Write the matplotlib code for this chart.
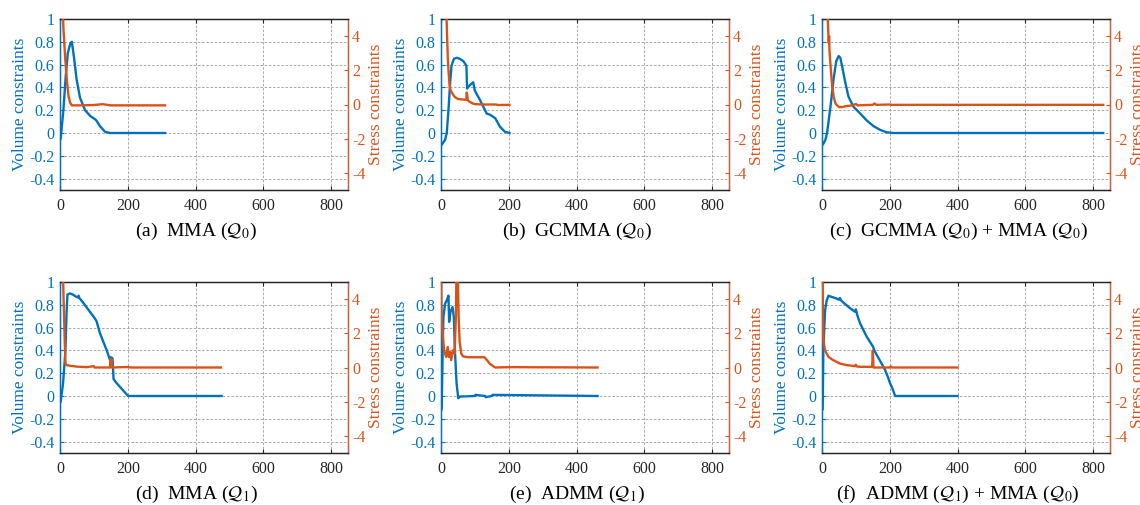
import matplotlib
matplotlib.use("Agg")
import matplotlib.pyplot as plt
from matplotlib.ticker import FuncFormatter

plt.rcParams['font.family'] = ['Liberation Serif', 'DejaVu Serif']
plt.rcParams['mathtext.fontset'] = 'stix'
plt.rcParams['axes.unicode_minus'] = False

BLUE = '#0072BD'
ORANGE = '#D95319'
DARK = '#262626'

captions = [r'(a)  MMA ($\mathcal{Q}_0$)',
            r'(b)  GCMMA ($\mathcal{Q}_0$)',
            r'(c)  GCMMA ($\mathcal{Q}_0$) + MMA ($\mathcal{Q}_0$)',
            r'(d)  MMA ($\mathcal{Q}_1$)',
            r'(e)  ADMM ($\mathcal{Q}_1$)',
            r'(f)  ADMM ($\mathcal{Q}_1$) + MMA ($\mathcal{Q}_0$)']

# (a) MMA (Q0)
a_vol_x = [0, 2, 10, 17, 23, 31, 35, 41, 49, 59, 74, 89, 106, 118, 133, 148, 310]
a_vol_y = [-0.06, -0.05, 0.2, 0.5, 0.7, 0.79, 0.8, 0.67, 0.47, 0.31, 0.2, 0.15, 0.115, 0.06, 0.01, 0.0, 0.0]
a_str_x = [7, 10, 15, 20, 25, 30, 35, 60, 100, 125, 150, 200, 310]
a_str_y = [6.5, 4.5, 2.8, 1.5, 0.5, 0.1, -0.05, -0.05, -0.03, 0.02, -0.05, -0.05, -0.05]

# (b) GCMMA (Q0)
b_vol_x = [0, 3, 12, 17, 22, 27, 31, 38, 46, 56, 66, 75, 77, 85, 95, 100, 115, 135, 145, 160, 174, 189, 202]
b_vol_y = [-0.11, -0.1, -0.06, 0.0, 0.2, 0.44, 0.59, 0.65, 0.66, 0.65, 0.63, 0.59, 0.39, 0.42, 0.445, 0.37, 0.29, 0.17, 0.16, 0.13, 0.055, 0.01, 0.0]
b_str_x = [15, 18, 20, 22, 25, 28, 32, 40, 50, 60, 75, 76, 77, 79, 85, 95, 100, 130, 160, 170, 202]
b_str_y = [6.0, 4.0, 2.8, 2.0, 1.2, 0.85, 0.7, 0.45, 0.32, 0.3, 0.28, 0.7, 0.6, 0.25, 0.15, 0.05, 0.02, 0.0, 0.0, -0.03, -0.02]

# (c) GCMMA (Q0) + MMA (Q0)
c_vol_x = [0, 3, 10, 15, 25, 34, 42, 49, 54, 59, 69, 78, 93, 113, 132, 152, 172, 191, 211, 830]
c_vol_y = [-0.1, -0.1, -0.06, 0.0, 0.23, 0.47, 0.63, 0.675, 0.66, 0.59, 0.44, 0.32, 0.23, 0.17, 0.11, 0.06, 0.027, 0.006, 0.0, 0.0]
c_str_x = [15, 18, 20, 21, 22, 24, 27, 30, 35, 40, 50, 60, 70, 90, 100, 105, 150, 155, 160, 200, 205, 830]
c_str_y = [6.0, 4.5, 3.6, 4.0, 3.2, 2.6, 1.8, 1.1, 0.4, 0.05, -0.15, -0.15, -0.1, -0.05, 0.03, -0.05, -0.02, 0.06, -0.02, 0.0, -0.02, -0.02]

# (d) MMA (Q1)
d_vol_x = [0, 2, 9, 16, 19, 22, 29, 38, 48, 53, 55, 57, 68, 88, 103, 108, 118, 138, 147, 150, 155, 158, 165, 180, 201, 477]
d_vol_y = [-0.06, -0.05, 0.11, 0.4, 0.7, 0.89, 0.9, 0.89, 0.87, 0.865, 0.88, 0.86, 0.82, 0.74, 0.68, 0.655, 0.55, 0.4, 0.32, 0.34, 0.33, 0.15, 0.12, 0.07, 0.0, 0.0]
d_str_x = [8, 10, 12, 14, 16, 18, 30, 50, 80, 100, 102, 148, 149, 151, 152, 153, 200, 210, 475]
d_str_y = [6.0, 4.5, 3.0, 1.5, 0.3, 0.15, 0.1, 0.05, 0.02, 0.08, 0.0, 0.0, 0.5, 0.1, 0.5, 0.0, 0.03, 0.0, 0.0]

# (e) ADMM (Q1)
e_vol_x = [0, 2, 5, 7, 12, 17, 22, 24, 28, 34, 38, 41, 46, 51, 56, 100, 102, 130, 132, 150, 152, 462]
e_vol_y = [-0.12, -0.12, 0.4, 0.69, 0.81, 0.84, 0.88, 0.65, 0.74, 0.78, 0.69, 0.4, 0.11, -0.02, -0.005, 0.0, 0.01, 0.0, -0.01, 0.0, 0.01, 0.0]
e_str_x = [0, 2, 5, 9, 15, 20, 23, 27, 30, 35, 40, 44, 46, 49, 52, 55, 60, 65, 80, 128, 135, 145, 160, 200, 462]
e_str_y = [6.0, 2.8, 2.0, 1.0, 0.62, 1.2, 0.62, 0.9, 0.43, 1.0, 0.8, 3.0, 6.0, 6.0, 3.0, 1.5, 0.8, 0.65, 0.6, 0.6, 0.45, 0.2, 0.0, 0.02, 0.0]

# (f) ADMM (Q1) + MMA (Q0)
f_vol_x = [0, 2, 4, 9, 14, 19, 28, 43, 50, 53, 56, 63, 83, 97, 100, 104, 112, 132, 147, 151, 156, 171, 186, 196, 201, 206, 216, 400]
f_vol_y = [-0.12, -0.12, 0.4, 0.75, 0.84, 0.88, 0.87, 0.855, 0.845, 0.86, 0.84, 0.82, 0.77, 0.74, 0.76, 0.71, 0.64, 0.52, 0.45, 0.43, 0.39, 0.31, 0.23, 0.155, 0.11, 0.08, 0.0, 0.0]
f_str_x = [2, 2.5, 4, 9, 19, 33, 53, 73, 97, 100, 103, 112, 148, 150, 152, 200, 203, 206, 400]
f_str_y = [6.0, 3.0, 1.6, 1.0, 0.62, 0.43, 0.23, 0.14, 0.08, 0.16, 0.06, 0.04, 0.04, 1.0, 0.0, 0.0, 0.07, 0.0, 0.0]

panels = [(a_vol_x, a_vol_y, a_str_x, a_str_y),
          (b_vol_x, b_vol_y, b_str_x, b_str_y),
          (c_vol_x, c_vol_y, c_str_x, c_str_y),
          (d_vol_x, d_vol_y, d_str_x, d_str_y),
          (e_vol_x, e_vol_y, e_str_x, e_str_y),
          (f_vol_x, f_vol_y, f_str_x, f_str_y)]

W, H = 1140, 505
fig = plt.figure(figsize=(W / 100, H / 100), dpi=100)

lefts = [60, 441, 822]
tops = [19, 282]
aw, ah = 288, 171
cap_y = [231, 494]

fmt = FuncFormatter(lambda v, p: '%g' % round(v, 2))

for i, (vx, vy, sx, sy) in enumerate(panels):
    r, c = divmod(i, 3)
    l, t = lefts[c], tops[r]
    ax = fig.add_axes([l / W, 1 - (t + ah) / H, aw / W, ah / H])
    ax2 = ax.twinx()

    ax.plot(vx, vy, color=BLUE, lw=1.7, zorder=3)
    ax2.plot(sx, sy, color=ORANGE, lw=1.7, zorder=3)

    ax.set_xlim(0, 850)
    ax.set_ylim(-0.5, 1)
    ax2.set_ylim(-5, 5)
    ax.set_xticks([0, 200, 400, 600, 800])
    ax.set_yticks([-0.4, -0.2, 0, 0.2, 0.4, 0.6, 0.8, 1])
    ax2.set_yticks([-4, -2, 0, 2, 4])
    ax.yaxis.set_major_formatter(fmt)

    ax.grid(True, color='#9a9a9a', ls=(0, (3, 2)), lw=0.6)
    ax.set_axisbelow(True)

    ax.tick_params(axis='x', direction='in', top=True, length=3, colors=DARK,
                   labelsize=11.5, pad=6)
    ax.tick_params(axis='y', direction='in', length=3, colors=BLUE,
                   labelsize=11.5, pad=4)
    ax2.tick_params(axis='y', direction='in', length=3, colors=ORANGE,
                    labelsize=11.5, pad=3)

    for sp in ['top', 'bottom']:
        ax2.spines[sp].set_color(DARK)
    ax2.spines['left'].set_color(BLUE)
    ax2.spines['right'].set_color('#C8643C')
    for s in ax2.spines.values():
        s.set_linewidth(1.0)

    ax.set_ylabel('Volume constraints', color=BLUE, fontsize=12.5, labelpad=1)
    ax2.set_ylabel('Stress constraints', color=ORANGE, fontsize=12.5, labelpad=2)

    fig.text((l + aw / 2 - 8) / W, 1 - cap_y[r] / H, captions[i],
             ha='center', va='center', fontsize=14, color='black')

fig.savefig('out.png', dpi=100)
